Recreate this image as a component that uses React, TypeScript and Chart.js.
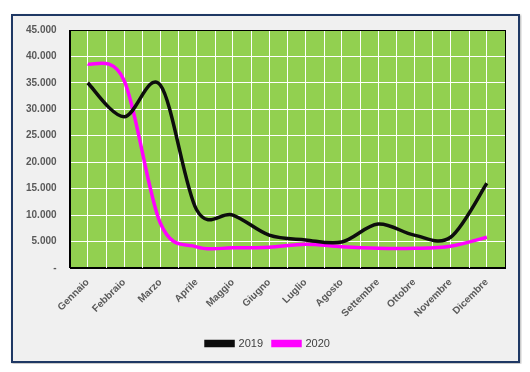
import React, { useEffect, useRef } from "react";
import { Chart, registerables } from "chart.js";

Chart.register(...registerables);

const months = [
  "Gennaio", "Febbraio", "Marzo", "Aprile", "Maggio", "Giugno",
  "Luglio", "Agosto", "Settembre", "Ottobre", "Novembre", "Dicembre",
];
const values2019 = [35000, 28600, 34600, 11000, 10000, 6200, 5300, 4900, 8300, 6200, 5800, 16000];
const values2020 = [38600, 35500, 8500, 4000, 3800, 3900, 4500, 4000, 3700, 3700, 4100, 5800];
const yTicks = [0, 5000, 10000, 15000, 20000, 25000, 30000, 35000, 40000, 45000];

const fmt = (v: number) =>
  v === 0 ? "-" : String(v).replace(/\B(?=(\d{3})+(?!\d))/g, ".");

const SMOOTH = 1 / 6;
const LEGEND_SHIFT = 9;

const plotPlugin = {
  id: "plotDecor",
  afterLayout(chart: any) {
    const lg = chart.legend;
    if (lg) {
      lg.left += LEGEND_SHIFT;
      lg.right += LEGEND_SHIFT;
    }
  },
  beforeDraw(chart: any) {
    const { ctx, chartArea } = chart;
    ctx.save();
    ctx.fillStyle = "#92d050";
    ctx.fillRect(chartArea.left, chartArea.top, chartArea.right - chartArea.left, chartArea.bottom - chartArea.top);
    ctx.restore();
  },
  beforeDatasetsDraw(chart: any) {
    const { ctx, chartArea } = chart;
    const x = chart.scales.x;
    ctx.save();
    ctx.strokeStyle = "#ffffff";
    ctx.lineWidth = 1;
    for (let i = 0; i < months.length - 1; i++) {
      const px = Math.round((x.getPixelForTick(i) + x.getPixelForTick(i + 1)) / 2) + 0.5;
      ctx.beginPath();
      ctx.moveTo(px, chartArea.top);
      ctx.lineTo(px, chartArea.bottom);
      ctx.stroke();
    }
    ctx.strokeStyle = "#000000";
    ctx.strokeRect(
      Math.round(chartArea.left) + 0.5,
      Math.round(chartArea.top) + 0.5,
      Math.round(chartArea.right - chartArea.left),
      Math.round(chartArea.bottom - chartArea.top)
    );
    ctx.restore();
    chart.data.datasets.forEach((_: any, di: number) => {
      const meta = chart.getDatasetMeta(di);
      const line: any = meta.dataset;
      if (line && line.updateControlPoints) line.updateControlPoints(chartArea, "x");
      const pts: any[] = meta.data;
      for (let i = 0; i < pts.length; i++) {
        const p = pts[i];
        const prev = pts[Math.max(0, i - 1)];
        const next = pts[Math.min(pts.length - 1, i + 1)];
        const dx = (next.x - prev.x) * SMOOTH;
        const dy = (next.y - prev.y) * SMOOTH;
        p.cp1x = p.x - dx;
        p.cp1y = p.y - dy;
        p.cp2x = p.x + dx;
        p.cp2y = p.y + dy;
      }
      if (line) {
        line._pointsUpdated = true;
        line._path = undefined;
      }
    });
  },
};

export default function App() {
  const ref = useRef<HTMLCanvasElement | null>(null);
  useEffect(() => {
    if (!ref.current) return;
    const chart = new Chart(ref.current, {
      type: "line",
      data: {
        labels: months,
        datasets: [
          {
            label: "2019",
            data: values2019,
            borderColor: "#0d0d0d",
            backgroundColor: "#0d0d0d",
            borderWidth: 3.5,
            pointRadius: 0,
            tension: 0.3,
          },
          {
            label: "2020",
            data: values2020,
            borderColor: "#ff00ff",
            backgroundColor: "#ff00ff",
            borderWidth: 3.5,
            pointRadius: 0,
            tension: 0.3,
          },
        ],
      },
      options: {
        animation: false,
        responsive: false,
        maintainAspectRatio: false,
        layout: { padding: { left: 0, right: 13, top: 0, bottom: 2 } },
        plugins: {
          legend: {
            position: "bottom",
            labels: {
              boxWidth: 27,
              boxHeight: 4,
              padding: 10,
              color: "#404040",
              font: { family: "'Liberation Sans', Arial, sans-serif", size: 11 },
            },
          },
          tooltip: { enabled: false },
        },
        scales: {
          x: {
            offset: true,
            grid: { display: true, offset: false, color: "#ffffff", drawTicks: false },
            border: { display: true, color: "#000000" },
            ticks: {
              maxRotation: 45,
              minRotation: 45,
              padding: 8.5,
              color: "#595959",
              font: { family: "'Liberation Sans', Arial, sans-serif", size: 10, weight: "bold" },
            },
          },
          y: {
            min: 0,
            max: 45000,
            afterBuildTicks: (axis: any) => {
              axis.ticks = yTicks.map((v) => ({ value: v }));
            },
            afterFit: (axis: any) => {
              axis.paddingTop = 14;
              axis.paddingBottom = 6;
            },
            grid: { color: "#ffffff", drawTicks: false },
            border: { display: true, color: "#000000" },
            ticks: {
              padding: 13,
              color: "#595959",
              font: { family: "'Liberation Sans', Arial, sans-serif", size: 10, weight: "bold" },
              callback: (v: any) => fmt(Number(v)),
            },
          },
        },
      },
      plugins: [plotPlugin],
    });
    return () => chart.destroy();
  }, []);

  return (
    <div style={{ position: "relative", width: 514, height: 356 }}>
      <div
        style={{
          position: "absolute",
          left: 3,
          top: 6,
          width: 509,
          height: 349,
          boxSizing: "border-box",
          border: "2px solid #1f3864",
          background: "#f0f0f0",
          boxShadow: "1px 1px 2px rgba(0,0,0,0.3)",
        }}
      >
        <canvas ref={ref} width={505} height={345} style={{ display: "block" }} />
      </div>
    </div>
  );
}
